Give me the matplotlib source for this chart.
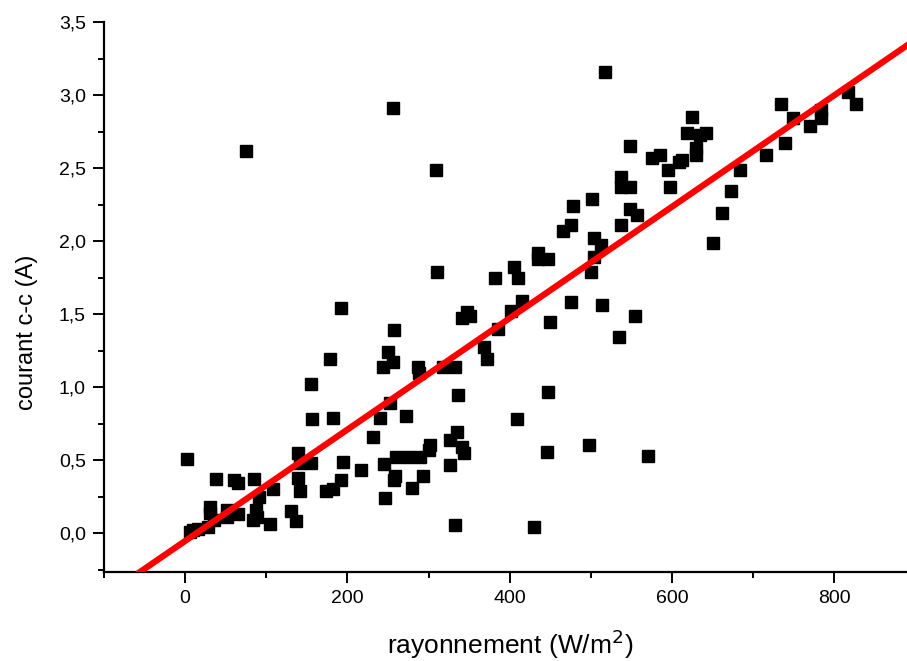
import matplotlib
matplotlib.use("Agg")
import matplotlib.pyplot as plt
from matplotlib.ticker import MultipleLocator, FuncFormatter

# irradiance (W/m2) and DC current (A)
rayonnement = [2, 6, 10, 16, 28, 35, 31, 31, 51, 51, 65, 87, 88, 83, 104, 130, 136,
               38, 60, 65, 85, 91, 108, 139, 141, 139, 141, 155, 174, 182, 192, 195,
               217, 245, 246, 260, 259, 257, 232, 240, 252, 244, 256, 250, 257, 192,
               178, 155, 156, 182, 75, 256, 309, 517, 272, 275, 289, 279, 293, 300,
               302, 326, 326, 335, 341, 343, 336, 287, 288, 318, 332, 341, 347, 351,
               368, 372, 385, 402, 415, 310, 382, 405, 410, 435, 435, 447, 409, 447,
               446, 449, 332, 430, 476, 498, 514, 534, 554, 570, 466, 476, 478, 501,
               504, 513, 504, 500, 537, 537, 548, 548, 537, 548, 557, 575, 585, 595,
               597, 612, 608, 624, 619, 634, 642, 630, 629, 684, 673, 661, 651, 716,
               734, 739, 749, 770, 783, 784, 817, 827]
courant = [0.51, 0.01, 0.02, 0.03, 0.04, 0.09, 0.18, 0.135, 0.157, 0.11, 0.13, 0.16,
           0.11, 0.09, 0.06, 0.15, 0.08, 0.37, 0.36, 0.345, 0.37, 0.25, 0.30, 0.55,
           0.48, 0.38, 0.29, 0.48, 0.29, 0.30, 0.36, 0.49, 0.43, 0.47, 0.24, 0.52,
           0.39, 0.36, 0.66, 0.79, 0.89, 1.14, 1.17, 1.24, 1.39, 1.54, 1.19, 1.02,
           0.78, 0.79, 2.62, 2.91, 2.49, 3.16, 0.80, 0.52, 0.52, 0.31, 0.39, 0.57,
           0.60, 0.465, 0.637, 0.694, 0.59, 0.55, 0.945, 1.14, 1.094, 1.135, 1.135,
           1.47, 1.516, 1.49, 1.276, 1.19, 1.395, 1.52, 1.59, 1.79, 1.744, 1.82,
           1.744, 1.916, 1.875, 1.875, 0.78, 0.968, 0.557, 1.443, 0.055, 0.04, 1.58,
           0.60, 1.56, 1.345, 1.49, 0.53, 2.07, 2.11, 2.24, 2.29, 2.02, 1.97, 1.89,
           1.79, 2.44, 2.37, 2.37, 2.65, 2.11, 2.22, 2.18, 2.566, 2.59, 2.49, 2.37,
           2.555, 2.54, 2.85, 2.74, 2.726, 2.74, 2.64, 2.59, 2.49, 2.34, 2.19, 1.99,
           2.59, 2.94, 2.67, 2.84, 2.79, 2.90, 2.84, 3.02, 2.94]

# linear fit as drawn on the reference
fit_slope = 0.003816
fit_intercept = -0.054

plt.rcParams['font.family'] = ['Liberation Sans', 'DejaVu Sans']

fig = plt.figure(figsize=(9.07, 6.61), dpi=100)
ax = fig.add_axes([0.1147, 0.1346, 0.8853, 0.832])

ax.plot(rayonnement, courant, linestyle='none', marker='s', markersize=9,
        color='black', zorder=2)
ax.axline((0, fit_intercept), slope=fit_slope, color='#ff0000', linewidth=4.5,
          zorder=3)

ax.set_xlim(-100, 889.5)
ax.set_ylim(-0.267, 3.5)

ax.spines['top'].set_visible(False)
ax.spines['right'].set_visible(False)
for s in ('left', 'bottom'):
    ax.spines[s].set_linewidth(1.6)

ax.xaxis.set_major_locator(MultipleLocator(200))
ax.xaxis.set_minor_locator(MultipleLocator(100))
ax.yaxis.set_major_locator(MultipleLocator(0.5))
ax.yaxis.set_minor_locator(MultipleLocator(0.25))
ax.yaxis.set_major_formatter(FuncFormatter(lambda v, p: f"{v:.1f}".replace('.', ',')))

ax.tick_params(which='major', direction='out', length=8, width=1.4,
               labelsize=14, pad=5)
ax.tick_params(which='minor', direction='out', length=4, width=1.4)

ax.set_xlabel("rayonnement (W/m$^2$)", fontsize=19)
ax.set_ylabel("courant c-c (A)", fontsize=17)
ax.xaxis.set_label_coords(0.506, -0.1)
ax.yaxis.set_label_coords(-0.082, 0.435)

fig.savefig("out.png", dpi=100)
